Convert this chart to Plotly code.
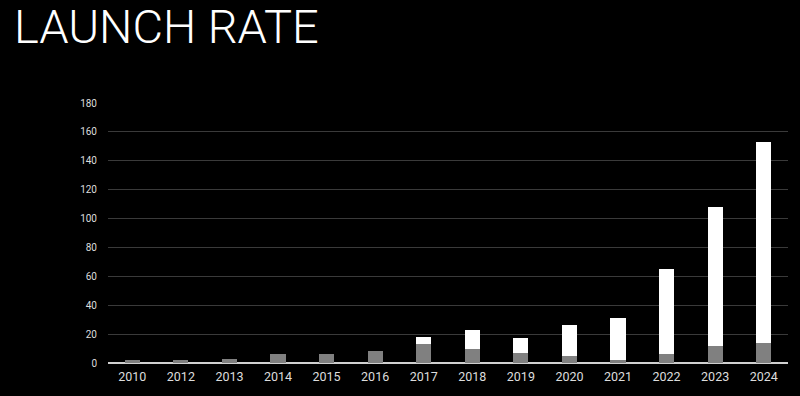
import plotly.graph_objects as go

years = ["2010", "2012", "2013", "2014", "2015", "2016", "2017",
         "2018", "2019", "2020", "2021", "2022", "2023", "2024"]
totals = [2, 2, 3, 6, 6, 8, 18, 23, 17, 26, 31, 65, 108, 153]
gray_part = [2, 2, 3, 6, 6, 8, 13, 10, 7, 5, 2, 6, 12, 14]
white_part = [t - g for t, g in zip(totals, gray_part)]
y_ticks = [0, 20, 40, 60, 80, 100, 120, 140, 160, 180]

fig = go.Figure()
fig.add_trace(go.Bar(x=years, y=gray_part, marker=dict(color="#808080", line=dict(width=0)),
                     name="gray", showlegend=False))
fig.add_trace(go.Bar(x=years, y=white_part, marker=dict(color="#ffffff", line=dict(width=0)),
                     name="white", showlegend=False))

fig.update_layout(
    barmode="stack",
    bargap=0.69,
    width=800, height=396,
    paper_bgcolor="#000000",
    plot_bgcolor="#000000",
    margin=dict(l=108, r=12, t=103, b=33),
    font=dict(family="Roboto", color="#dddddd"),
    title=dict(text="LAUNCH RATE", xref="container", yref="container",
               x=14/800, xanchor="left", y=1 - 10/396, yanchor="top",
               font=dict(family="Roboto", size=47, color="#ffffff", weight=300)),
    xaxis=dict(type="category", showgrid=False, zeroline=False, showline=False,
               ticks="", tickfont=dict(size=12.5, color="#dddddd"), ticklabelstandoff=4),
    yaxis=dict(range=[0, 180], tickvals=y_ticks, showgrid=True, gridcolor="#3a3a3a",
               gridwidth=1, zeroline=True, zerolinecolor="#d0d0d0", zerolinewidth=2,
               showline=False, ticks="", tickfont=dict(size=10, color="#dddddd"),
               ticklabelstandoff=10),
)

fig.write_html("out.html", config={"displayModeBar": False},
               post_script="document.body.style.margin='0';document.body.style.background='#000';")
